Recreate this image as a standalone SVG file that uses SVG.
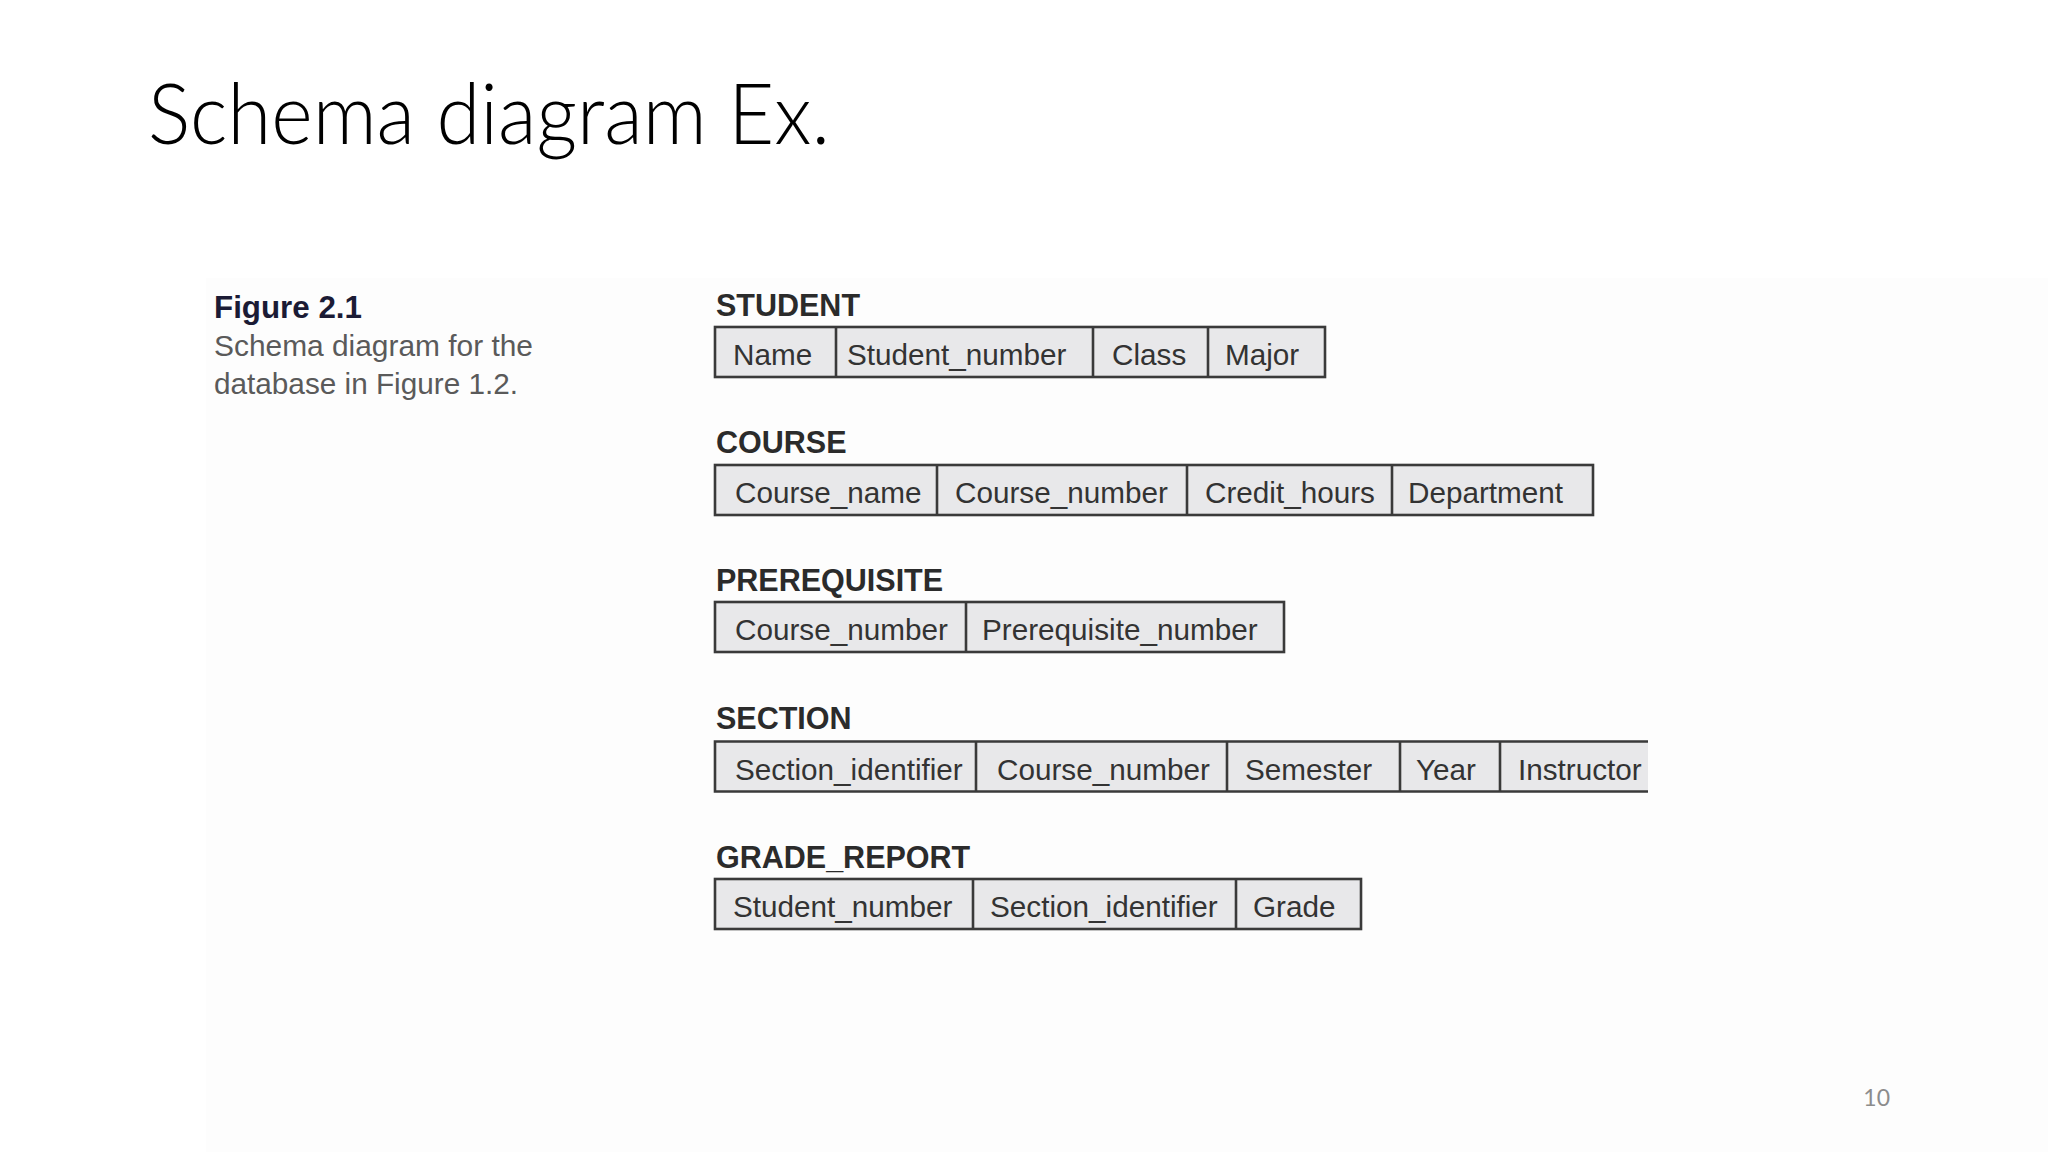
<svg xmlns="http://www.w3.org/2000/svg" width="2048" height="1152" viewBox="0 0 2048 1152">
  <style>
    .title { font-family: "Lato", "Open Sans", "Liberation Sans", sans-serif; font-weight: 300; font-size: 84px; fill: #000; }
    .pnum { font-family: "Lato", "Open Sans", "Liberation Sans", sans-serif; font-size: 23px; fill: #8c8c8c; }
    .fig { font-family: "Liberation Sans", Arial, sans-serif; font-weight: bold; font-size: 31px; fill: #1b1b35; }
    .cap { font-family: "Liberation Sans", Arial, sans-serif; font-size: 29.5px; fill: #5a5a5a; }
    .lbl { font-family: "Liberation Sans", Arial, sans-serif; font-weight: bold; font-size: 30.5px; fill: #2b2b2b; }
    .cell { fill: #e8e8ea; stroke: #3a3a3a; stroke-width: 2.6; }
    .div { stroke: #3a3a3a; stroke-width: 2.6; }
    .att { font-family: "Liberation Sans", Arial, sans-serif; font-size: 29.7px; fill: #333; }
  </style>
  <rect x="0" y="0" width="2048" height="1152" fill="#ffffff"/>
  <rect x="206" y="278" width="1842" height="874" fill="#fdfdfd"/>

  <g id="title">
    <text class="title" x="148" y="144" textLength="682" lengthAdjust="spacingAndGlyphs">Schema diagram Ex.</text>
  </g>

  <g id="caption">
    <text class="fig" x="214" y="318" textLength="148" lengthAdjust="spacingAndGlyphs">Figure 2.1</text>
    <text class="cap" x="214" y="356" textLength="319" lengthAdjust="spacingAndGlyphs">Schema diagram for the</text>
    <text class="cap" x="214" y="394" textLength="304" lengthAdjust="spacingAndGlyphs">database in Figure 1.2.</text>
  </g>

  <g id="student">
    <text class="lbl" x="716" y="316">STUDENT</text>
    <rect class="cell" x="715" y="327" width="610" height="50"/>
    <line class="div" x1="836" y1="327" x2="836" y2="377"/>
    <line class="div" x1="1093" y1="327" x2="1093" y2="377"/>
    <line class="div" x1="1208" y1="327" x2="1208" y2="377"/>
    <text class="att" x="733" y="365">Name</text>
    <text class="att" x="847" y="365">Student_number</text>
    <text class="att" x="1112" y="365">Class</text>
    <text class="att" x="1225" y="365">Major</text>
  </g>

  <g id="course">
    <text class="lbl" x="716" y="453">COURSE</text>
    <rect class="cell" x="715" y="465" width="878" height="50"/>
    <line class="div" x1="937" y1="465" x2="937" y2="515"/>
    <line class="div" x1="1187" y1="465" x2="1187" y2="515"/>
    <line class="div" x1="1392" y1="465" x2="1392" y2="515"/>
    <text class="att" x="735" y="503">Course_name</text>
    <text class="att" x="955" y="503">Course_number</text>
    <text class="att" x="1205" y="503">Credit_hours</text>
    <text class="att" x="1408" y="503">Department</text>
  </g>

  <g id="prerequisite">
    <text class="lbl" x="716" y="591">PREREQUISITE</text>
    <rect class="cell" x="715" y="602" width="569" height="50"/>
    <line class="div" x1="966" y1="602" x2="966" y2="652"/>
    <text class="att" x="735" y="640">Course_number</text>
    <text class="att" x="982" y="640">Prerequisite_number</text>
  </g>

  <g id="section">
    <text class="lbl" x="716" y="729">SECTION</text>
    <rect x="715" y="741.5" width="933" height="50" fill="#e8e8ea"/>
    <path class="div" fill="none" d="M1648 741.5 H715 V791.5 H1648"/>
    <line class="div" x1="976" y1="741.5" x2="976" y2="791.5"/>
    <line class="div" x1="1227" y1="741.5" x2="1227" y2="791.5"/>
    <line class="div" x1="1400" y1="741.5" x2="1400" y2="791.5"/>
    <line class="div" x1="1500" y1="741.5" x2="1500" y2="791.5"/>
    <text class="att" x="735" y="779.5">Section_identifier</text>
    <text class="att" x="997" y="779.5">Course_number</text>
    <text class="att" x="1245" y="779.5">Semester</text>
    <text class="att" x="1416" y="779.5">Year</text>
    <text class="att" x="1518" y="779.5">Instructor</text>
  </g>

  <g id="grade_report">
    <text class="lbl" x="716" y="868">GRADE_REPORT</text>
    <rect class="cell" x="715" y="879" width="646" height="50"/>
    <line class="div" x1="973" y1="879" x2="973" y2="929"/>
    <line class="div" x1="1236" y1="879" x2="1236" y2="929"/>
    <text class="att" x="733" y="917">Student_number</text>
    <text class="att" x="990" y="917">Section_identifier</text>
    <text class="att" x="1253" y="917">Grade</text>
  </g>

  <g id="connectors"/>

  <g id="page-number">
    <text class="pnum" x="1890" y="1106" text-anchor="end">10</text>
  </g>
</svg>
